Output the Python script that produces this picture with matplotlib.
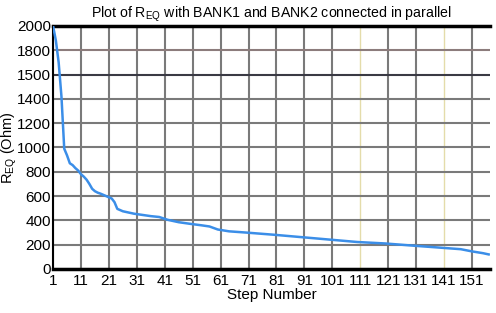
import matplotlib
matplotlib.use('Agg')
from matplotlib import pyplot as plt

plt.rcParams['font.family'] = ['Liberation Sans', 'DejaVu Sans']

# values
steps = [1, 2, 3, 4, 5, 6, 7, 8, 9, 10, 11, 12, 13, 14, 15, 16, 17, 18, 20, 22, 23, 24,
         26, 28, 30, 33, 36, 39, 42, 46, 50, 54, 57, 60, 64, 70, 80, 90, 100, 110,
         120, 130, 140, 147, 151, 155, 157]
r_eq = [2000, 1880, 1700, 1420, 990, 935, 870, 855, 830, 810, 780, 760, 735, 700, 660,
        640, 628, 620, 600, 580, 550, 495, 475, 465, 455, 445, 435, 428, 405, 385, 372,
        360, 350, 325, 310, 300, 282, 262, 242, 222, 210, 192, 175, 163, 145, 130, 120]

x_ticks = list(range(1, 152, 10))
y_ticks = [0, 200, 400, 600, 800, 1000, 1200, 1400, 1600, 1800, 2000]
y_tick_labels = ['0', '200', '400', '600', '800', '1000', '1200', '1400', '1500', '1800', '2000']

fig = plt.figure(figsize=(4.96, 3.13), dpi=100)
ax = fig.add_axes([0.107, 0.1406, 0.881, 0.7764])

ax.plot(steps, r_eq, color='#3b8ee8', linewidth=1.8, zorder=3)

ax.set_xlim(1, 157.5)
ax.set_ylim(0, 2000)
ax.set_xticks(x_ticks)
ax.set_yticks(y_ticks)
ax.set_yticklabels(y_tick_labels)
ax.tick_params(length=0, labelsize=11)
ax.tick_params(axis='x', pad=3.5)
ax.tick_params(axis='y', pad=1.5)

ax.grid(True, color='#7a7a7a', linewidth=1.5, zorder=1)
# a few grid lines have a slightly different tint in the reference
for gl, t in zip(ax.get_ygridlines(), y_ticks):
    if t == 1600:
        gl.set_color('#3a3a44')
    elif t == 1800:
        gl.set_color('#8c7c7c')
for gl, t in zip(ax.get_xgridlines(), x_ticks):
    if t in (111, 141):
        gl.set_color('#e4dcaa')
        gl.set_linewidth(1.0)

ax.spines['right'].set_visible(False)
for s in ('top', 'left', 'bottom'):
    ax.spines[s].set_color('black')
ax.spines['top'].set_linewidth(2.5)
ax.spines['bottom'].set_linewidth(2.5)
ax.spines['left'].set_linewidth(1.5)

ax.set_title('Plot of R$_{\\mathregular{EQ}}$ with BANK1 and BANK2 connected in parallel',
             fontsize=10.2, pad=6)
ax.set_xlabel('Step Number', fontsize=11, labelpad=0)
ax.set_ylabel('R$_{\\mathregular{EQ}}$ (Ohm)', fontsize=10.5)
ax.yaxis.set_label_coords(-0.079, 0.5)

fig.savefig('out.png', dpi=100)
